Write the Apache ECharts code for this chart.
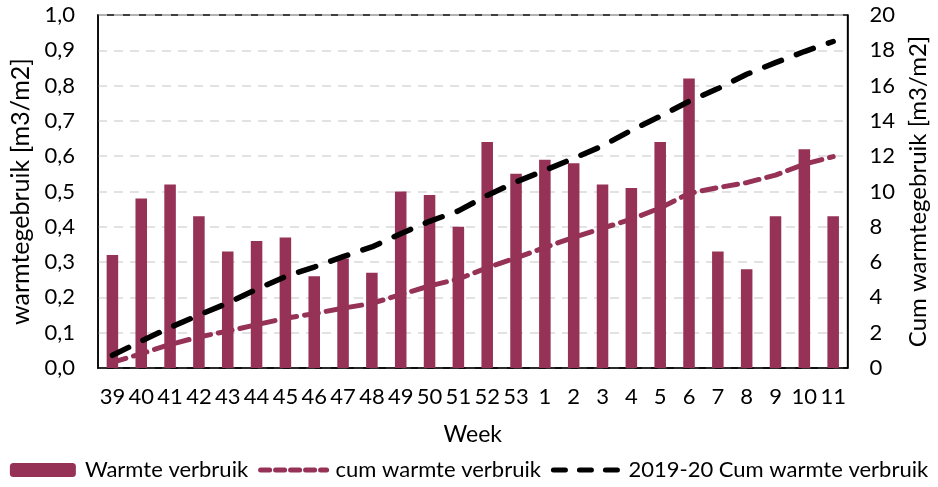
<!DOCTYPE html>
<html>
<head>
<meta charset="utf-8">
<script src="https://cdn.jsdelivr.net/npm/echarts@6/dist/echarts.min.js"></script>
<style>
  html, body { margin: 0; padding: 0; background: #fff; }
  #chart { width: 938px; height: 487px; }
</style>
</head>
<body>
<div id="chart"></div>
<script>
const weeks = ['39', '40', '41', '42', '43', '44', '45', '46', '47', '48', '49', '50', '51', '52', '53',
  '1', '2', '3', '4', '5', '6', '7', '8', '9', '10', '11'];
// weekly heat use (left axis)
const weekly = [0.32, 0.48, 0.52, 0.43, 0.33, 0.36, 0.37, 0.26, 0.31, 0.27, 0.50, 0.49, 0.40, 0.64, 0.55,
  0.59, 0.58, 0.52, 0.51, 0.64, 0.82, 0.33, 0.28, 0.43, 0.62, 0.43];
// cumulative (right axis)
const cumWeekly = [0.32, 0.81, 1.33, 1.76, 2.09, 2.45, 2.82, 3.08, 3.39, 3.66, 4.16, 4.65, 5.04, 5.68, 6.24,
  6.83, 7.40, 7.92, 8.43, 9.07, 9.89, 10.22, 10.50, 10.93, 11.55, 11.98];
const cumPrevYear = [0.72, 1.52, 2.30, 3.00, 3.68, 4.46, 5.18, 5.72, 6.31, 6.86, 7.61, 8.31, 8.90, 9.78, 10.54,
  11.20, 11.88, 12.58, 13.47, 14.26, 15.11, 15.83, 16.64, 17.30, 17.93, 18.5];

const FONT = 'Lato';
const wine = '#953255';
const purpleDash = [14, 8];
const blackDash = [18, 16];

let myChart = echarts.init(document.getElementById('chart'));
myChart.setOption({
  textStyle: { fontFamily: FONT },
  animation: false,
  grid: {
    left: 98, right: 80, top: 15, bottom: 119,
    show: true, borderColor: '#000', borderWidth: 1.5
  },
  legend: {
    bottom: 1,
    left: 'center',
    itemWidth: 66,
    itemHeight: 14,
    itemGap: 10,
    textStyle: { fontFamily: FONT, fontSize: 22, color: '#000', padding: [0, 0, 0, 4] },
    data: [
      { name: 'Warmte verbruik' },
      { name: 'cum warmte verbruik', itemStyle: { opacity: 0 },
        lineStyle: { color: wine, width: 5, type: [9, 6], cap: 'round' } },
      { name: '2019-20 Cum warmte verbruik', itemStyle: { opacity: 0 },
        lineStyle: { color: '#000', width: 5, type: [12, 14], cap: 'round' } }
    ]
  },
  xAxis: {
    type: 'category',
    data: weeks,
    name: 'Week',
    nameLocation: 'middle',
    nameGap: 55,
    nameTextStyle: { fontFamily: FONT, fontSize: 23, color: '#000' },
    axisTick: { show: false },
    axisLine: { lineStyle: { color: '#000', width: 1.5 } },
    axisLabel: { fontFamily: FONT, fontSize: 22, color: '#000', margin: 18, interval: 0 }
  },
  yAxis: [{
    type: 'value',
    min: 0, max: 1, interval: 0.1,
    name: 'warmtegebruik [m3/m2]',
    nameLocation: 'middle',
    nameGap: 58,
    nameTextStyle: { fontFamily: FONT, fontSize: 25, color: '#000' },
    axisLine: { show: true, lineStyle: { color: '#000', width: 1.5 } },
    axisTick: { show: false },
    axisLabel: {
      fontFamily: FONT, fontSize: 22, color: '#000', margin: 23,
      formatter: v => v.toFixed(1).replace('.', ',')
    },
    splitLine: { lineStyle: { color: '#d9d9d9', width: 1.5, type: [9, 7] } }
  }, {
    type: 'value',
    min: 0, max: 20, interval: 2,
    name: 'Cum warmtegebruik [m3/m2]',
    nameLocation: 'middle',
    nameGap: 48,
    nameTextStyle: { fontFamily: FONT, fontSize: 24, color: '#000' },
    axisLine: { show: true, lineStyle: { color: '#000', width: 1.5 } },
    axisTick: { show: false },
    axisLabel: { fontFamily: FONT, fontSize: 22, color: '#000', margin: 22 },
    splitLine: { show: false }
  }],
  series: [{
    name: 'Warmte verbruik',
    type: 'bar',
    data: weekly,
    barWidth: '40%',
    itemStyle: { color: wine }
  }, {
    name: 'cum warmte verbruik',
    type: 'line',
    yAxisIndex: 1,
    data: cumWeekly,
    symbol: 'none',
    lineStyle: { color: wine, width: 5, type: purpleDash, cap: 'round' },
    itemStyle: { color: wine },
    z: 3
  }, {
    name: '2019-20 Cum warmte verbruik',
    type: 'line',
    yAxisIndex: 1,
    data: cumPrevYear,
    symbol: 'none',
    lineStyle: { color: '#000', width: 5.5, type: blackDash, cap: 'round' },
    itemStyle: { color: '#000' },
    z: 4
  }]
});
</script>
</body>
</html>
